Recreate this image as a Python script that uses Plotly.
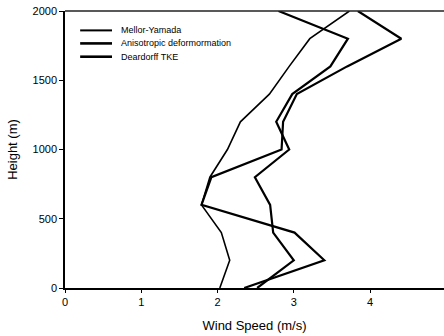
import plotly.graph_objects as go

heights = [0, 200, 400, 600, 800, 1000, 1200, 1400, 1600, 1800, 2000]
mellor_yamada = [2.03, 2.16, 2.05, 1.79, 1.90, 2.13, 2.30, 2.68, 2.94, 3.21, 3.73]
anisotropic = [2.35, 3.40, 3.01, 1.79, 1.92, 2.84, 2.86, 3.04, 3.70, 4.41, 3.84]
deardorff = [2.52, 3.00, 2.73, 2.69, 2.49, 2.94, 2.77, 2.98, 3.48, 3.71, 2.80]

names = ["Mellor-Yamada", "Anisotropic deformormation", "Deardorff TKE"]
series = [mellor_yamada, anisotropic, deardorff]
widths = [1.6, 2.2, 2.2]

fig = go.Figure()
for n, s, w in zip(names, series, widths):
    fig.add_trace(go.Scatter(x=s, y=heights, mode="lines", name=n,
                             line=dict(color="black", width=w), showlegend=False))

font = dict(family="Liberation Sans, Arial, sans-serif", color="black")

# compact legend (line samples + labels), placed in plot-area paper coordinates
leg_rows = [0.930, 0.883, 0.835]
for n, w, yy in zip(names, widths, leg_rows):
    fig.add_shape(type="line", xref="paper", yref="paper", x0=0.040, x1=0.124,
                  y0=yy, y1=yy, line=dict(color="black", width=w + 0.4))
    fig.add_annotation(text=n, xref="paper", yref="paper", x=0.142, y=yy,
                       xanchor="left", yanchor="middle", showarrow=False,
                       font=dict(size=9, **font))

fig.update_layout(
    width=444, height=336,
    margin=dict(l=65, r=0, t=11, b=48, autoexpand=False),
    paper_bgcolor="white", plot_bgcolor="white",
    font=dict(size=10, **font),
    showlegend=False,
    xaxis=dict(range=[0, 4.97], tickvals=[0, 1, 2, 3, 4], automargin=False,
               showline=True, linecolor="black", linewidth=1.5,
               ticks="outside", ticklen=3, tickcolor="black",
               showgrid=False, zeroline=False, ticklabeloverflow="allow",
               title=dict(text="Wind Speed (m/s)", font=dict(size=13, **font), standoff=14),
               tickfont=dict(size=11, **font)),
    yaxis=dict(range=[0, 2000], tickvals=[0, 500, 1000, 1500, 2000], automargin=False,
               showline=True, linecolor="black", linewidth=1.5,
               ticks="outside", ticklen=4, tickcolor="black",
               showgrid=False, zeroline=False, ticklabeloverflow="allow",
               title=dict(text="Height (m)", font=dict(size=13, **font), standoff=12),
               tickfont=dict(size=11, **font)),
)
fig.add_shape(type="line", xref="paper", yref="paper", x0=0, x1=1, y0=1, y1=1,
              line=dict(color="#222222", width=1.5))
fig.write_html("out.html", config={"displayModeBar": False},
               post_script="document.body.style.margin='0';")
